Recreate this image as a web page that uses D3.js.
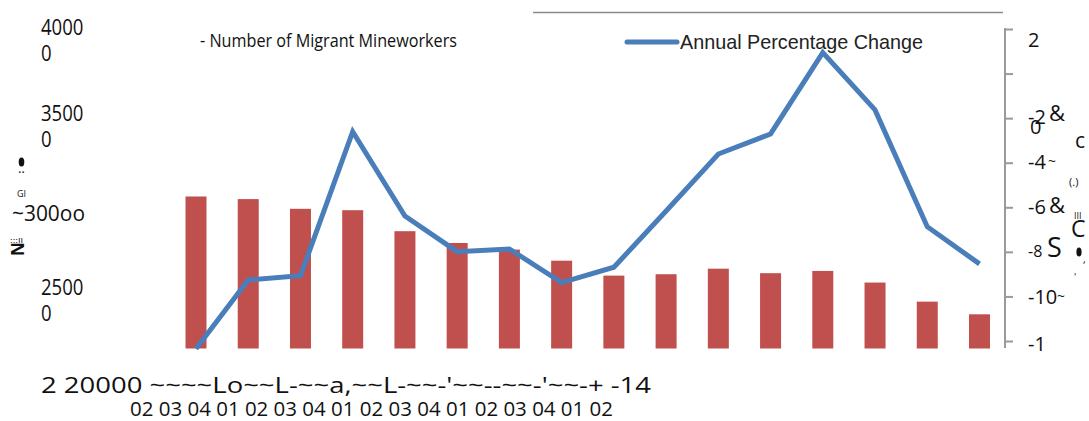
<!DOCTYPE html>
<html>
<head>
<meta charset="utf-8">
<script src="https://cdn.jsdelivr.net/npm/d3@7"></script>
<style>
  body { margin: 0; background: #fff; }
  svg { display: block; }
  text { font-family: "Open Sans", sans-serif; fill: #111; }
</style>
</head>
<body>
<svg id="chart" width="1089" height="421"></svg>
<script>
// Quarter codes printed under the plot
const quarterLabels = ["02","03","04","01","02","03","04","01","02","03","04","01","02","03","04","01","02"];
// Number of migrant mineworkers per quarter (bars, left axis)
const mineworkers = [30980, 30830, 30270, 30190, 28980, 28300, 27920, 27280, 26420, 26500, 26820, 26560, 26690, 26020, 24920, 24190];
// Annual percentage change (line, right axis)
const annualChange = [-12.35, -9.26, -9.07, -2.61, -6.39, -7.99, -7.87, -9.38, -8.69, -6.17, -3.61, -2.71, 0.94, -1.63, -6.87, -8.54];
// Left axis ticks and their printed labels
const leftTicks = [40000, 35000, 30000, 25000];
const leftTickLabels = [["4000","0"], ["3500","0"], ["~300oo"], ["2500","0"]];
// Right axis ticks and their printed labels
const rightTicks = [2, 0, -2, -4, -6, -8, -10, -12];
const rightTickLabels = ["2", "", "-2", "-4", "-6", "-8", "-10", "-1"];
// Text line along the foot of the chart
const footLabel = "2 20000 ~~~~Lo~~L-~~a,~~L-~~-'~~--~~-'~~-+ -14";
const seriesNames = ["- Number of Migrant Mineworkers", "Annual Percentage Change"];

const svg = d3.select("#chart");
const barColor = "#c0504d";
const lineColor = "#4a7ebb";
const plotBottom = 348.5;

const x = d3.scalePoint().domain(d3.range(mineworkers.length)).range([196, 979.5]);
const yLeft = d3.scaleLinear().domain([20000, 40000]).range([387, 40]);
const yRight = d3.scaleLinear().domain([2, -12]).range([29, 341]);

// bars
const barW = 21;
svg.append("g").selectAll("rect").data(mineworkers).join("rect")
  .attr("x", (d, i) => x(i) - barW / 2)
  .attr("y", d => yLeft(d))
  .attr("width", barW)
  .attr("height", d => plotBottom - yLeft(d))
  .attr("fill", barColor);

// line
svg.append("path")
  .datum(annualChange)
  .attr("d", d3.line().x((d, i) => x(i)).y(d => yRight(d)))
  .attr("fill", "none")
  .attr("stroke", lineColor)
  .attr("stroke-width", 5)
  .attr("stroke-linejoin", "miter");

// right axis
const rAxis = svg.append("g").attr("transform", "translate(1005,0)")
  .call(d3.axisRight(yRight).tickValues(rightTicks).tickSize(8).tickFormat(""));
rAxis.select(".domain").remove();
rAxis.selectAll(".tick line").attr("stroke", "#9a9a9a").attr("stroke-width", 2);
svg.append("line").attr("x1", 1005).attr("x2", 1005).attr("y1", 28).attr("y2", 348)
  .attr("stroke", "#9a9a9a").attr("stroke-width", 2);

// right tick labels
const rOffsets = [11, 0, -1.5, -1, -0.5, -0.5, 1, 3];
svg.append("g").selectAll("text").data(rightTicks).join("text")
  .attr("x", 1028)
  .attr("y", (d, i) => yRight(d) + rOffsets[i])
  .attr("dy", "0.35em")
  .attr("font-size", (d, i) => rightTicks[i] === -8 ? 16 : 20)
  .text((d, i) => rightTickLabels[i]);

// stray glyphs beside the right axis
const rightGlyphs = [
  ["&", 1049, 121, 22], ["0", 1030, 134, 20], ["c", 1075, 148, 21], ["~", 1048, 166, 14],
  ["(.)", 1069, 186, 11], ["&", 1049, 213, 22], ["III", 1074, 219, 9], ["C", 1071, 237, 23],
  ["S", 1047, 257, 27], [",", 1083, 263, 10], ["'", 1074, 281, 10], ["~", 1057, 301, 14]
];
svg.append("g").selectAll("text").data(rightGlyphs).join("text")
  .attr("x", d => d[1]).attr("y", d => d[2]).attr("font-size", d => d[3]).text(d => d[0]);
svg.append("ellipse").attr("cx", 1079).attr("cy", 252).attr("rx", 2.6).attr("ry", 4.5).attr("fill", "#111");

// left tick labels (stacked lines)
const leftG = svg.append("g");
leftTicks.forEach((t, i) => {
  const lines = leftTickLabels[i];
  const yc = yLeft(t);
  if (lines.length === 2) {
    lines.forEach((s, j) => {
      leftG.append("text").attr("x", 41).attr("y", yc + (j === 0 ? -13 : 13))
        .attr("dy", "0.35em").attr("font-size", 22)
        .attr("textLength", s.length * 10.6).attr("lengthAdjust", "spacingAndGlyphs").text(s);
    });
  } else {
    leftG.append("text").attr("x", 12).attr("y", yc).attr("dy", "0.35em").attr("font-size", 22)
      .attr("textLength", 73).attr("lengthAdjust", "spacingAndGlyphs").text(lines[0]);
  }
});

// fragments of the rotated left title
svg.append("ellipse").attr("cx", 21.5).attr("cy", 162).attr("rx", 2.8).attr("ry", 4.6).attr("fill", "#111");
svg.append("text").attr("x", 21.5).attr("y", 185).attr("text-anchor", "middle").attr("font-size", 18).text("¨");
svg.append("text").attr("x", 21.5).attr("y", 197).attr("text-anchor", "middle").attr("font-size", 9).text("GI");
svg.append("text").attr("x", 10).attr("y", 243).attr("font-size", 8)
  .attr("textLength", 13).attr("lengthAdjust", "spacingAndGlyphs").text(":::ll");
svg.append("text").attr("transform", "translate(18.5,249) rotate(-90)")
  .attr("text-anchor", "middle").attr("dy", "0.35em").attr("font-size", 17).attr("font-weight", 700).text("N");

// foot rows
svg.append("text").attr("x", 41).attr("y", 393).attr("font-size", 21)
  .attr("textLength", 610).attr("lengthAdjust", "spacingAndGlyphs").text(footLabel);
svg.append("text").attr("x", 130).attr("y", 416).attr("font-size", 20)
  .attr("textLength", 483).attr("lengthAdjust", "spacingAndGlyphs").text(quarterLabels.join(" "));

// legend
svg.append("text").attr("x", 200).attr("y", 46.5).attr("font-size", 18)
  .attr("textLength", 257).attr("lengthAdjust", "spacingAndGlyphs").text(seriesNames[0]);
svg.append("line").attr("x1", 533).attr("x2", 1003).attr("y1", 12.5).attr("y2", 12.5)
  .attr("stroke", "#8a8a8a").attr("stroke-width", 1.6);
svg.append("line").attr("x1", 627).attr("x2", 677).attr("y1", 42).attr("y2", 42)
  .attr("stroke", lineColor).attr("stroke-width", 5).attr("stroke-linecap", "round");
svg.append("text").attr("x", 680).attr("y", 48.5).attr("font-size", 21)
  .style("font-family", "'Liberation Sans', Arial, sans-serif").style("fill", "#222")
  .attr("textLength", 243).attr("lengthAdjust", "spacingAndGlyphs").text(seriesNames[1]);
</script>
</body>
</html>
